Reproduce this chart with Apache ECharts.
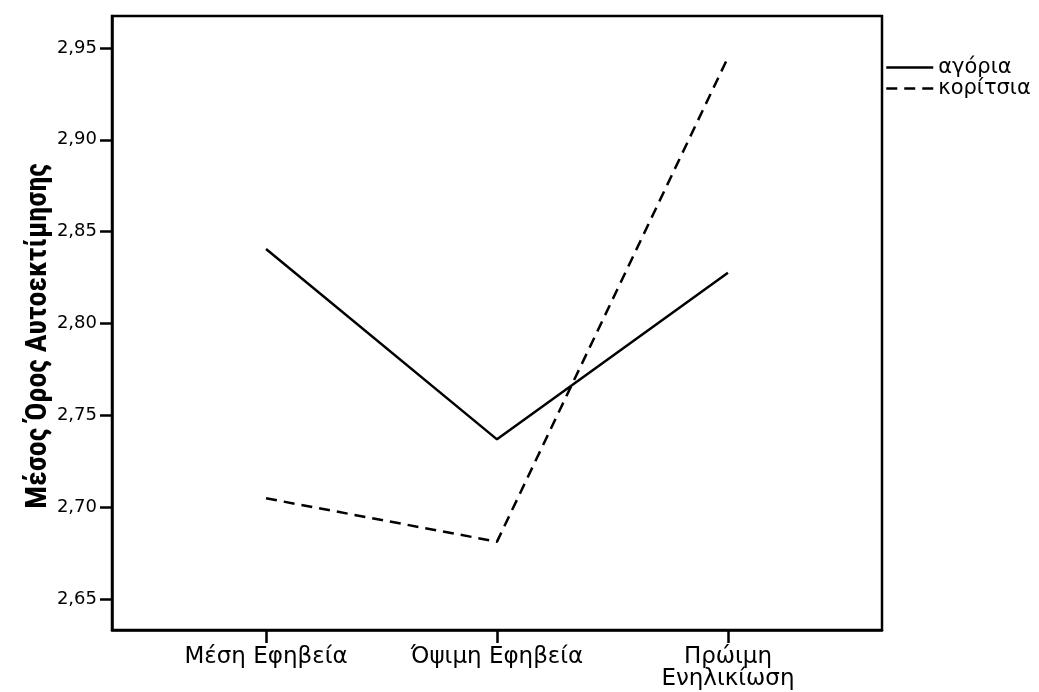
<!DOCTYPE html>
<html>
<head>
<meta charset="utf-8">
<script src="https://cdn.jsdelivr.net/npm/echarts@6/dist/echarts.min.js"></script>
<style>
html,body{margin:0;padding:0;background:#fff;}
#chart{width:1039px;height:692px;}
</style>
</head>
<body>
<div id="chart"></div>
<script>
const categories = ['Μέση Εφηβεία', 'Όψιμη Εφηβεία', 'Πρώιμη\nΕνηλικίωση'];
const boys = [2.8405, 2.7369, 2.8276];
const girls = [2.7048, 2.6812, 2.9448];
const yTicks = [2.65, 2.70, 2.75, 2.80, 2.85, 2.90, 2.95];
const seriesNames = ['αγόρια', 'κορίτσια'];
const yTitle = 'Μέσος Όρος Αυτοεκτίμησης';

const font = 'DejaVu Sans, Liberation Sans, Arial, sans-serif';
const chart = echarts.init(document.getElementById('chart'), null, {renderer: 'canvas'});
const toPts = arr => arr.map((v, i) => [i, v]);

chart.setOption({
  animation: false,
  backgroundColor: '#fff',
  grid: {left: 112, right: 157, top: 16, bottom: 62, outerBoundsMode: 'none', containLabel: false, show: true, borderColor: '#000', borderWidth: 2.5, backgroundColor: 'transparent'},
  legend: {
    show: true, orient: 'vertical', left: 885, top: 57, padding: 0, itemWidth: 47, itemHeight: 12, itemGap: 0,
    itemStyle: {color: 'transparent', borderWidth: 0, opacity: 0},
    lineStyle: {width: 2.5},
    textStyle: {fontFamily: font, fontSize: 21, lineHeight: 20, color: '#000'},
    data: seriesNames
  },
  xAxis: {
    type: 'value', min: -0.667, max: 2.667,
    splitLine: {show: false},
    axisLine: {show: true, onZero: false, lineStyle: {color: '#000', width: 2.5}},
    axisTick: {show: true, length: 13, customValues: [0,1,2], lineStyle: {color: '#000', width: 2.5}},
    axisLabel: {
      customValues: [0,1,2], margin: 16, color: '#000', fontFamily: font, fontSize: 23, lineHeight: 22,
      formatter: v => categories[Math.round(v)]
    }
  },
  yAxis: {
    type: 'value', min: 2.6331, max: 2.9674,
    name: yTitle, nameLocation: 'middle', nameGap: 59, nameRotate: 90, nameMoveOverlap: false,
    nameTextStyle: {fontFamily: 'Liberation Sans Narrow, Roboto Condensed, Liberation Sans, Arial, sans-serif', fontWeight: 'bold', fontSize: 30, color: '#000', padding: [0, 26, 0, 0]},
    splitLine: {show: false},
    axisLine: {show: true, onZero: false, lineStyle: {color: '#000', width: 2.5}},
    axisTick: {show: true, length: 12, customValues: yTicks, lineStyle: {color: '#000', width: 2.5}},
    axisLabel: {
      customValues: yTicks, margin: 15, color: '#000', fontFamily: font, fontSize: 18,
      formatter: v => v.toFixed(2).replace('.', ',')
    }
  },
  series: [
    {name: seriesNames[0], type: 'line', data: toPts(boys), symbol: 'none', lineStyle: {color: '#000', width: 2.5, type: 'solid'}, itemStyle: {color: '#000'}},
    {name: seriesNames[1], type: 'line', data: toPts(girls), symbol: 'none', lineStyle: {color: '#000', width: 2.5, type: [11, 7]}, itemStyle: {color: '#000'}}
  ]
});
</script>
</body>
</html>
